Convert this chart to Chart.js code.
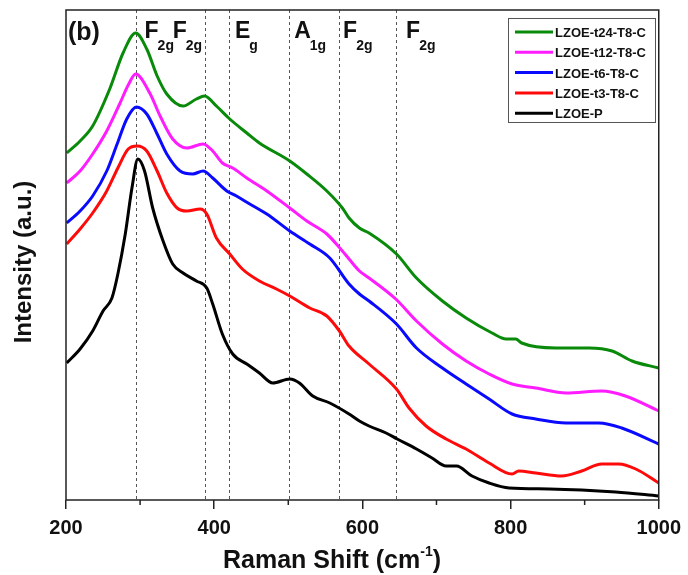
<!DOCTYPE html>
<html>
<head>
<meta charset="utf-8">
<script src="https://cdn.jsdelivr.net/npm/chart.js@4.4.1/dist/chart.umd.min.js"></script>
<style>
  html, body { margin: 0; padding: 0; background: #fff; }
  #wrap { width: 688px; height: 575px; }
</style>
</head>
<body>
<div id="wrap"><canvas id="ramanChart" width="688" height="575"></canvas></div>
<script>
// Raman spectra, values (intensity in arbitrary units)
const shiftP = [201, 219, 236, 250, 262, 270, 280, 289, 297, 306, 317, 331, 344, 358, 376, 390, 398, 411, 425, 444, 461, 479, 502, 515, 533, 556, 582, 596, 609, 632, 647, 673, 694, 713, 727, 748, 771, 798, 852, 942, 1000];
const intP   = [137, 151, 169, 189, 202, 226, 266, 312, 341, 329, 292, 259, 236, 227, 219, 212, 196, 166, 146, 136, 127, 117, 121, 117, 104, 97, 86, 79, 74, 67, 61, 51, 42, 34, 34, 24, 17, 12, 11, 8, 4];

const shiftT3 = [201, 219, 236, 255, 270, 284, 296, 309, 323, 336, 350, 363, 381, 390, 403, 421, 438, 461, 484, 502, 529, 552, 569, 582, 609, 646, 663, 686, 713, 740, 771, 802, 811, 834, 869, 896, 923, 946, 969, 1000];
const intT3   = [256, 271, 287, 309, 332, 351, 354, 349, 329, 307, 292, 289, 291, 286, 262, 246, 231, 219, 211, 204, 192, 184, 169, 154, 136, 111, 92, 74, 61, 51, 37, 26, 29, 27, 24, 29, 36, 36, 31, 17];

const shiftT6 = [201, 219, 236, 255, 269, 282, 295, 309, 323, 336, 354, 371, 385, 398, 417, 430, 448, 471, 502, 529, 556, 582, 596, 609, 646, 673, 708, 740, 771, 802, 834, 875, 919, 950, 1000];
const intT6   = [277, 289, 304, 329, 356, 381, 393, 386, 366, 346, 329, 326, 329, 322, 309, 304, 296, 286, 269, 256, 242, 216, 206, 199, 176, 152, 132, 116, 101, 86, 81, 77, 77, 72, 56];

const shiftT12 = [201, 219, 236, 255, 273, 284, 294, 313, 327, 344, 363, 385, 398, 411, 425, 444, 471, 502, 525, 552, 573, 582, 596, 609, 645, 673, 708, 740, 771, 802, 834, 875, 923, 955, 1000];
const intT12   = [317, 329, 346, 369, 397, 415, 426, 407, 384, 361, 352, 356, 349, 337, 332, 322, 309, 292, 279, 266, 249, 241, 229, 222, 201, 179, 156, 139, 126, 116, 112, 107, 109, 104, 89];

const shiftT24 = [201, 219, 236, 259, 277, 294, 309, 323, 336, 358, 376, 387, 403, 421, 444, 461, 502, 525, 552, 573, 582, 596, 609, 646, 673, 708, 740, 775, 794, 807, 815, 861, 906, 937, 964, 1000];
const intT24   = [347, 359, 374, 411, 447, 467, 451, 424, 406, 394, 401, 404, 394, 381, 367, 357, 339, 326, 309, 292, 282, 272, 267, 246, 222, 199, 182, 167, 161, 161, 157, 152, 152, 149, 139, 132];

const seriesNames  = ['LZOE-t24-T8-C', 'LZOE-t12-T8-C', 'LZOE-t6-T8-C', 'LZOE-t3-T8-C', 'LZOE-P'];
const seriesColors = ['#0a8a0a', '#ff1cff', '#0a0aff', '#ff0a0a', '#000000'];

// Raman active modes (dashed lines) and their labels
const modeShifts = [294, 387, 420, 501, 568, 646];
const modeLabels = [['F', '2g'], ['F', '2g'], ['E', 'g'], ['A', '1g'], ['F', '2g'], ['F', '2g']];
const labelShifts = [306, 344, 428, 508, 574, 659];

const xTicks = [200, 400, 600, 800, 1000];
const xMinorTicks = [300, 500, 700, 900];

function pts(xs, ys) {
    return xs.map((x, i) => ({ x: x, y: ys[i] }));
}

const allData = [pts(shiftT24, intT24), pts(shiftT12, intT12), pts(shiftT6, intT6), pts(shiftT3, intT3), pts(shiftP, intP)];

const FONT = '"Liberation Sans", Arial, sans-serif';

const decor = {
    id: 'decor',
    beforeDatasetsDraw(chart) {
        const ctx = chart.ctx;
        const area = chart.chartArea;
        const xs = chart.scales.x;
        ctx.save();
        ctx.strokeStyle = '#555';
        ctx.lineWidth = 1;
        ctx.setLineDash([3, 3]);
        modeShifts.forEach(s => {
            const px = Math.round(xs.getPixelForValue(s)) + 0.5;
            ctx.beginPath();
            ctx.moveTo(px, area.top);
            ctx.lineTo(px, area.bottom);
            ctx.stroke();
        });
        ctx.restore();
    },
    afterDraw(chart) {
        const ctx = chart.ctx;
        const area = chart.chartArea;
        const xs = chart.scales.x;
        ctx.save();

        // frame
        ctx.strokeStyle = '#222';
        ctx.lineWidth = 1.5;
        ctx.strokeRect(area.left, area.top, area.right - area.left, area.bottom - area.top);

        // minor ticks
        ctx.beginPath();
        xMinorTicks.forEach(t => {
            const px = xs.getPixelForValue(t);
            ctx.moveTo(px, area.bottom);
            ctx.lineTo(px, area.bottom + 5);
        });
        ctx.stroke();

        // panel tag
        ctx.fillStyle = '#111';
        ctx.textBaseline = 'alphabetic';
        ctx.textAlign = 'left';
        ctx.font = 'bold 25px ' + FONT;
        ctx.fillText('(b)', area.left + 2, 40);

        // mode labels
        modeLabels.forEach((lab, i) => {
            let px = xs.getPixelForValue(labelShifts[i]);
            ctx.font = 'bold 23px ' + FONT;
            ctx.fillText(lab[0], px, 38);
            px += ctx.measureText(lab[0]).width - 1;
            ctx.font = 'bold 14px ' + FONT;
            ctx.fillText(lab[1], px, 50);
        });

        // legend
        const lx = 508, ly = 18, lw = 147, lh = 104;
        ctx.strokeStyle = '#555';
        ctx.lineWidth = 1;
        ctx.strokeRect(lx + 0.5, ly + 0.5, lw, lh);
        ctx.font = 'bold 13px ' + FONT;
        seriesNames.forEach((name, i) => {
            const cy = ly + 14 + i * 20.3;
            ctx.strokeStyle = seriesColors[i];
            ctx.lineWidth = 3;
            ctx.beginPath();
            ctx.moveTo(lx + 7, cy);
            ctx.lineTo(lx + 45, cy);
            ctx.stroke();
            ctx.fillStyle = '#111';
            ctx.fillText(name, lx + 47, cy + 5);
        });

        // axis titles
        ctx.fillStyle = '#111';
        ctx.font = 'bold 25px ' + FONT;
        let tx = 223;
        const base = 568;
        ctx.fillText('Raman Shift (cm', tx, base);
        tx += ctx.measureText('Raman Shift (cm').width;
        ctx.font = 'bold 14px ' + FONT;
        ctx.fillText('-1', tx, base - 12);
        tx += ctx.measureText('-1').width;
        ctx.font = 'bold 25px ' + FONT;
        ctx.fillText(')', tx, base);

        ctx.translate(24, 262);
        ctx.rotate(-Math.PI / 2);
        ctx.textAlign = 'center';
        ctx.textBaseline = 'middle';
        ctx.font = 'bold 24px ' + FONT;
        ctx.fillText('Intensity (a.u.)', 0, 0);
        ctx.restore();
    }
};

new Chart(document.getElementById('ramanChart'), {
    type: 'line',
    data: {
        datasets: allData.map((d, i) => ({
            label: seriesNames[i],
            data: d,
            borderColor: seriesColors[i],
            borderWidth: 3,
            pointRadius: 0,
            fill: false,
            cubicInterpolationMode: 'monotone'
        }))
    },
    options: {
        responsive: false,
        animation: false,
        layout: { padding: { top: 10, right: 27, left: 0, bottom: 0 } },
        plugins: { legend: { display: false }, tooltip: { enabled: false } },
        scales: {
            x: {
                type: 'linear',
                min: 200,
                max: 1000,
                afterBuildTicks: s => { s.ticks = xTicks.map(v => ({ value: v })); },
                afterFit: s => { s.height = 75; },
                border: { display: false },
                grid: { display: true, drawOnChartArea: false, drawTicks: true, tickLength: 9, color: '#222', lineWidth: 1.5 },
                ticks: {
                    color: '#111', padding: 7, maxRotation: 0,
                    callback: v => String(v),
                    font: { family: FONT, size: 20, weight: 'bold' }
                },
                title: { display: false }
            },
            y: {
                min: 0,
                max: 490,
                afterFit: s => { s.width = 66; },
                border: { display: false },
                grid: { display: false },
                ticks: { display: false },
                title: { display: false }
            }
        }
    },
    plugins: [decor]
});
</script>
</body>
</html>
